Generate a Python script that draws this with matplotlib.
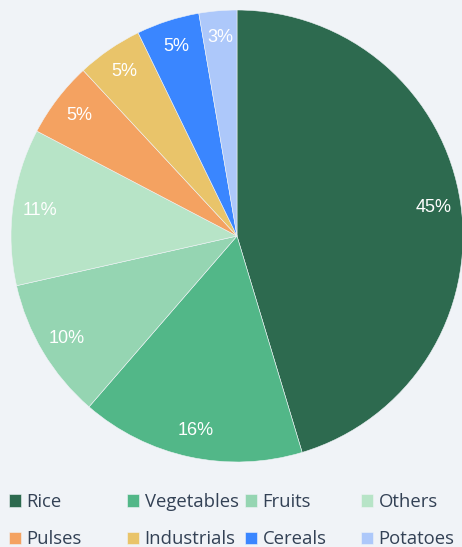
# Crop area shares - pie chart with bottom legend
import matplotlib
matplotlib.use('Agg')
import matplotlib.pyplot as plt

crops = ['Rice', 'Vegetables', 'Fruits', 'Others',
         'Pulses', 'Industrials', 'Cereals', 'Potatoes']
shares = [45.3, 16.0, 10.1, 11.2, 5.4, 4.7, 4.5, 2.7]
colors = ['#2d6a4f', '#52b788', '#95d5b2', '#b7e4c7',
          '#f4a261', '#e9c46a', '#3a86ff', '#adc8fa']

bg = '#f0f3f7'
fig = plt.figure(figsize=(4.62, 5.47), dpi=100, facecolor=bg)

# pie axes: centre ~ (237, 236) px, radius ~ 226 px
ax = fig.add_axes([11 / 462, (547 - 462) / 547, 452 / 462, 452 / 547])
ax.set_facecolor(bg)
wedges, texts, pcts = ax.pie(shares, colors=colors, startangle=90, counterclock=False,
                             autopct='%.0f%%', pctdistance=0.88,
                             wedgeprops={'linewidth': 0.4, 'edgecolor': bg},
                             textprops={'color': 'white', 'fontsize': 13,
                                        'family': 'Liberation Sans'})
ax.set_xlim(-1, 1)
ax.set_ylim(-1, 1)
ax.set_aspect('equal')
ax.axis('off')

# legend: one small legend per column so columns are evenly spaced
col_x = [9 / 462, 127 / 462, 245 / 462, 361 / 462]
for i in range(4):
    fig.legend(handles=[wedges[i], wedges[i + 4]], labels=[crops[i], crops[i + 4]],
               loc='upper left', bbox_to_anchor=(col_x[i], 1 - 493 / 547),
               frameon=False, handlelength=0.65, handleheight=0.65,
               handletextpad=0.3, labelspacing=1.05, borderpad=0, borderaxespad=0,
               prop={'family': 'Open Sans', 'size': 13.3}, labelcolor='#334155')

plt.savefig('out.png', dpi=100, facecolor=bg)
